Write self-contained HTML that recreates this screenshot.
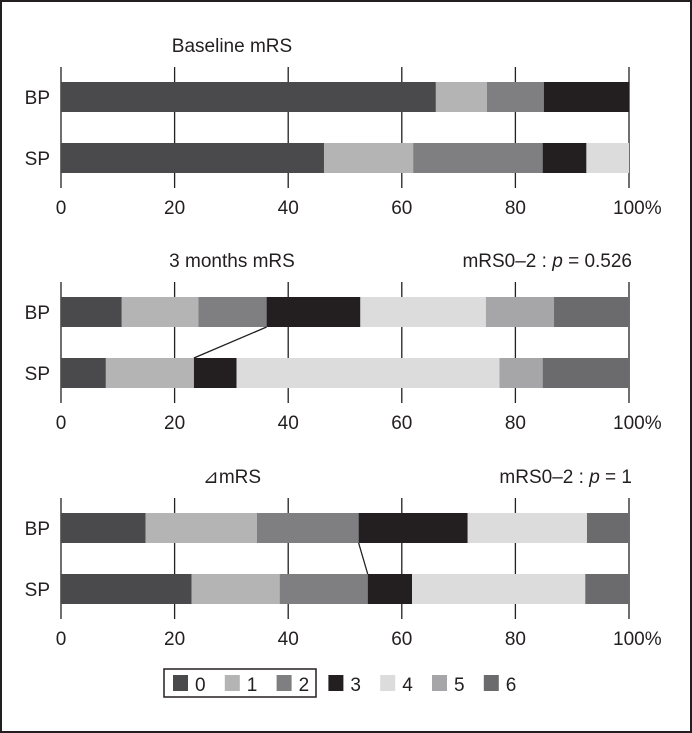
<!DOCTYPE html>
<html><head><meta charset="utf-8"><style>
html,body{margin:0;padding:0;background:#fff;}
svg{display:block;font-family:"Liberation Sans",sans-serif;}
</style></head><body>
<svg id="chart" width="692" height="733">
<rect x="1" y="1" width="690" height="731" fill="#fff" stroke="#231f20" stroke-width="2"/>
<g id="plots"></g>
<g id="legend"></g>
</svg>
<script>
const colors = ["#4a4a4c","#b4b4b5","#7f7f81","#231f20","#dcdcdd","#a6a6a8","#6b6b6e"];
const groups = ["BP","SP"];
const ticks = [0,20,40,60,80,100];
const legendLabels = ["0","1","2","3","4","5","6"];
const baselineBP = [66,9,10,15,0,0,0];
const baselineSP = [46.3,15.7,22.8,7.7,7.5,0,0];
const m3BP = [10.7,13.5,12,16.5,22.1,12,13.2];
const m3SP = [7.9,15.5,0,7.5,46.3,7.6,15.2];
const dBP = [14.9,19.6,17.9,19.2,21,0,7.4];
const dSP = [23,15.5,15.5,7.8,30.5,0,7.7];
const panelTitles = ["Baseline mRS","3 months mRS","\u22BFmRS"];
const panelP = ["", "0.526", "1"];

const NS="http://www.w3.org/2000/svg";
const X0=61, X1=629, FS=19;
const xs = v => X0 + (X1-X0)*v/100;
function mk(tag, attrs, parent){const e=document.createElementNS(NS,tag);for(const k in attrs)e.setAttribute(k,attrs[k]);parent.appendChild(e);return e;}
const plots=document.getElementById('plots');
const panels=[
 {top:67, bp:baselineBP, sp:baselineSP, connect:false},
 {top:282, bp:m3BP, sp:m3SP, connect:true},
 {top:498, bp:dBP, sp:dSP, connect:true}
];
panels.forEach((p,i)=>{
  const g=mk('g',{},plots);
  
  
  const t=mk('text',{x:232,y:p.top-15,'text-anchor':'middle','font-size':FS,fill:'#231f20'},g);
  t.textContent=panelTitles[i];
  
  
  if(panelP[i]){
    const pt=mk('text',{x:632,y:p.top-15,'text-anchor':'end','font-size':FS,fill:'#231f20'},g);
    pt.innerHTML='mRS0\u20132 : <tspan font-style="italic">p</tspan> = '+panelP[i];
    
    
  }
  ticks.forEach(tv=>{
    const ln=mk('line',{x1:xs(tv),x2:xs(tv),y1:p.top,y2:p.top+121,stroke:'#231f20','stroke-width':1.3},g);
    
    
    const tl=mk('text',{x:xs(tv),y:p.top+147,'text-anchor':tv===100?'start':'middle','font-size':FS,fill:'#231f20'},g);
    if(tv===100){tl.setAttribute('x',xs(tv)-16);}
    tl.textContent=tv===100?'100%':String(tv);
    
    
  });
  const bpY=p.top+15, spY=p.top+76, bh=30;
  [[p.bp,bpY,'bp'],[p.sp,spY,'sp']].forEach(([vals,y,nm],gi)=>{
    let acc=0;
    vals.forEach((v,k)=>{
      if(v>0){
        const r=mk('rect',{x:xs(acc),y:y,width:xs(acc+v)-xs(acc),height:bh,fill:colors[k]},g);
        
        
      }
      acc+=v;
    });
    const l=mk('text',{x:50,y:y+22,'text-anchor':'end','font-size':FS,fill:'#231f20'},g);
    l.textContent=groups[gi];
    
    
  });
  if(p.connect){
    const a=p.bp[0]+p.bp[1]+p.bp[2], b=p.sp[0]+p.sp[1]+p.sp[2];
    const c=mk('line',{x1:xs(a),y1:bpY+bh,x2:xs(b),y2:spY,stroke:'#231f20','stroke-width':1.3},g);
    
    
  }
});
const lg=document.getElementById('legend');
const box=mk('rect',{x:164,y:669,width:152,height:28,fill:'none',stroke:'#231f20','stroke-width':1.5},lg);


legendLabels.forEach((lab,k)=>{
  const x=173+k*51.8;
  const s=mk('rect',{x:x,y:675,width:15,height:16,fill:colors[k]},lg);
  
  
  const t=mk('text',{x:x+22,y:691,'font-size':FS,fill:'#231f20'},lg);
  t.textContent=lab;
  
  
});
</script>
</body></html>
